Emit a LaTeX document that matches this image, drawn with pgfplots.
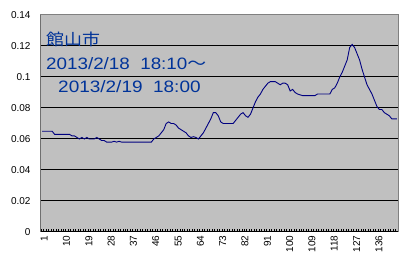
\documentclass[border=0pt]{standalone}
\usepackage{pgfplots}
\pgfplotsset{compat=1.18}
\usepackage{fontspec}
\setmainfont{Liberation Sans}
\newfontfamily\cjk{Noto Sans CJK JP}
\definecolor{plotbg}{RGB}{192,192,192}
\definecolor{frame}{RGB}{128,128,128}
\definecolor{navy}{RGB}{0,0,128}
\definecolor{txtblue}{RGB}{0,51,153}
\begin{document}
\begin{tikzpicture}
\path[use as bounding box] (0,0) rectangle (405pt,268pt);
\begin{axis}[
  at={(41pt,36pt)}, anchor=south west,
  width=357pt, height=217pt, scale only axis,
  xmin=0.5, xmax=144.5, ymin=0, ymax=0.14,
  axis background/.style={fill=plotbg},
  axis line style={frame, line width=1pt},
  xtick={1,10,...,136},
  minor xtick={0.5,1.5,...,144.5},
  xtick pos=bottom, ytick pos=left,
  tick align=inside,
  major x tick style={draw=none},
  minor x tick style={black, line width=0.6pt},
  minor tick length=3pt,
  ytick={0,0.02,...,0.14},
  yticklabels={0,0.02,0.04,0.06,0.08,0.1,0.12,0.14},
  major y tick style={draw=none},
  ymajorgrids, grid style={black, line width=1pt},
  /pgf/number format/assume math mode=true,
  tick label style={font=\fontsize{10}{12}\selectfont},
  x tick label style={rotate=90, anchor=east, yshift=-2pt},
  y tick label style={xshift=-7pt},
]
\draw[black, line width=1pt] (rel axis cs:0,0) -- (rel axis cs:1,0);
\draw[black, line width=1pt] (rel axis cs:0,0) -- (rel axis cs:0,1);
\addplot[navy, line width=0.9pt, mark=none] table {
x y
1 0.065
2 0.065
3 0.065
4 0.065
5 0.065
6 0.063
7 0.063
8 0.063
9 0.063
10 0.063
11 0.063
12 0.063
13 0.062
14 0.062
15 0.061
16 0.060
17 0.061
18 0.060
19 0.061
20 0.060
21 0.060
22 0.060
23 0.061
24 0.060
25 0.059
26 0.059
27 0.058
28 0.058
29 0.058
30 0.0585
31 0.058
32 0.0585
33 0.058
34 0.058
35 0.058
36 0.058
37 0.058
38 0.058
39 0.058
40 0.058
41 0.058
42 0.058
43 0.058
44 0.058
45 0.058
46 0.060
47 0.061
48 0.062
49 0.064
50 0.066
51 0.070
52 0.071
53 0.070
54 0.070
55 0.069
56 0.067
57 0.066
58 0.065
59 0.064
60 0.062
61 0.061
62 0.0615
63 0.061
64 0.060
65 0.062
66 0.064
67 0.067
68 0.070
69 0.073
70 0.077
71 0.077
72 0.075
73 0.071
74 0.070
75 0.070
76 0.070
77 0.070
78 0.070
79 0.072
80 0.074
81 0.076
82 0.077
83 0.075
84 0.074
85 0.076
86 0.080
87 0.084
88 0.087
89 0.089
90 0.092
91 0.094
92 0.096
93 0.097
94 0.097
95 0.097
96 0.096
97 0.095
98 0.096
99 0.096
100 0.095
101 0.091
102 0.092
103 0.090
104 0.089
105 0.0885
106 0.088
107 0.088
108 0.088
109 0.088
110 0.088
111 0.088
112 0.089
113 0.089
114 0.089
115 0.089
116 0.089
117 0.089
118 0.092
119 0.093
120 0.096
121 0.100
122 0.103
123 0.107
124 0.111
125 0.119
126 0.121
127 0.119
128 0.115
129 0.111
130 0.105
131 0.100
132 0.095
133 0.092
134 0.089
135 0.085
136 0.081
137 0.079
138 0.079
139 0.077
140 0.076
141 0.075
142 0.073
143 0.073
144 0.073
};
\end{axis}
\node[anchor=base west, inner sep=0pt, txtblue] at (46pt,222pt) {\scalebox{1.12}[1]{\cjk\fontsize{16}{18}\selectfont 館山市}};
\node[anchor=base west, inner sep=0pt, txtblue] at (46pt,198pt) {\scalebox{1.14}[1]{\fontsize{16.5}{18}\selectfont 2013/2/18\ \ 18:10{\cjk ～}}};
\node[anchor=base west, inner sep=0pt, txtblue] at (58pt,175pt) {\scalebox{1.15}[1]{\fontsize{16.5}{18}\selectfont 2013/2/19\ \ 18:00}};
\end{tikzpicture}
\end{document}
